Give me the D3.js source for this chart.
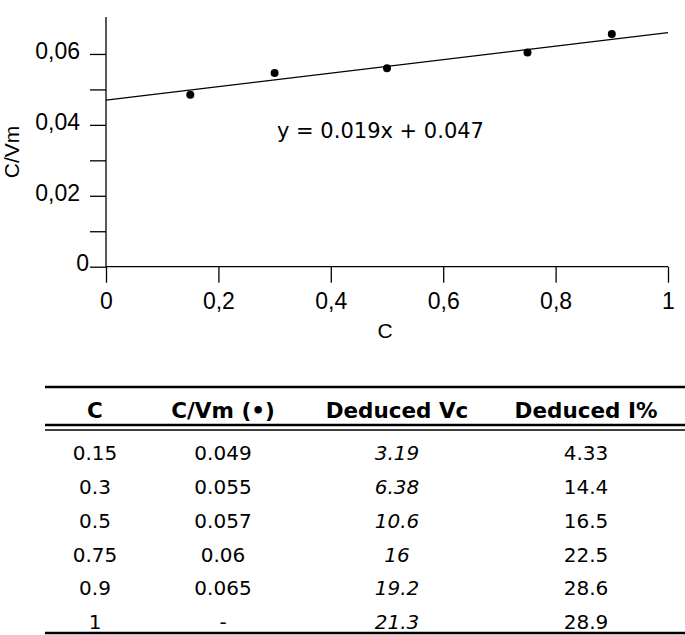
<!DOCTYPE html>
<html>
<head>
<meta charset="utf-8">
<script src="https://cdn.jsdelivr.net/npm/d3@7"></script>
<style>
  body { margin: 0; background: #fff; }
  svg { display: block; }
</style>
</head>
<body>
<svg id="chart"></svg>
<script>
const width = 685;
const height = 635;

// scatter points
const pointC = [0.15, 0.3, 0.5, 0.75, 0.9];
const pointCVm = [0.0485, 0.0546, 0.056, 0.0604, 0.0656];

// linear fit shown on the chart
const fitSlope = 0.019;
const fitIntercept = 0.047;
const fitLabel = "y = 0.019x + 0.047";

const xTicks = [0, 0.2, 0.4, 0.6, 0.8, 1];
const yTicks = [0, 0.01, 0.02, 0.03, 0.04, 0.05, 0.06];
const yLabelled = [0, 0.02, 0.04, 0.06];

// table
const tableHeaders = ["C", "C/Vm (\u2022)", "Deduced Vc", "Deduced I%"];
const colC = ["0.15", "0.3", "0.5", "0.75", "0.9", "1"];
const colCVm = ["0.049", "0.055", "0.057", "0.06", "0.065", "-"];
const colVc = ["3.19", "6.38", "10.6", "16", "19.2", "21.3"];
const colI = ["4.33", "14.4", "16.5", "22.5", "28.6", "28.9"];

const svg = d3.select("#chart")
    .attr("width", width)
    .attr("height", height);

const x = d3.scaleLinear().domain([0, 1]).range([106, 668]);
const y = d3.scaleLinear().domain([0, 0.07]).range([266.7, 18.5]);

const axisFont = "'Liberation Sans', Arial, sans-serif";
const tableFont = "'DejaVu Sans', Verdana, sans-serif";

// y axis
const yAxis = svg.append("g")
    .attr("transform", `translate(${x(0)},0)`)
    .call(d3.axisLeft(y)
        .tickValues(yTicks)
        .tickSize(16)
        .tickPadding(11)
        .tickFormat(d => yLabelled.some(v => Math.abs(v - d) < 1e-9) ? d3.format(".2f")(d).replace(".", ",").replace(/^0,00$/, "0") : ""));
yAxis.select(".domain").remove();
yAxis.selectAll("line").attr("stroke", "#000").attr("stroke-width", 1.3);
yAxis.selectAll("text")
    .style("font-family", axisFont)
    .style("font-size", "23px")
    .attr("fill", "#000")
    .attr("dy", d => d === 0 ? "0.15em" : "0.2em")
    .attr("x", d => d === 0 ? -17 : -26);

svg.append("line")
    .attr("x1", x(0)).attr("x2", x(0))
    .attr("y1", y(0.07) - 1.5).attr("y2", y(0))
    .attr("stroke", "#000").attr("stroke-width", 1.3);

// x axis
const xAxis = svg.append("g")
    .attr("transform", `translate(0,${y(0)})`)
    .call(d3.axisBottom(x)
        .tickValues(xTicks)
        .tickSize(16)
        .tickPadding(10)
        .tickFormat(d => d === 0 || d === 1 ? String(d) : d3.format(".1f")(d).replace(".", ",")));
xAxis.select(".domain").remove();
xAxis.selectAll("line").attr("stroke", "#000").attr("stroke-width", 1.3);
xAxis.selectAll("text")
    .style("font-family", axisFont)
    .style("font-size", "23px")
    .attr("fill", "#000");

svg.append("line")
    .attr("x1", x(0)).attr("x2", x(1))
    .attr("y1", y(0)).attr("y2", y(0))
    .attr("stroke", "#000").attr("stroke-width", 1.3);

// axis titles
svg.append("text")
    .attr("x", 385).attr("y", 338)
    .attr("text-anchor", "middle")
    .style("font-family", axisFont)
    .style("font-size", "21px")
    .text("C");

svg.append("text")
    .attr("transform", "translate(19,152) rotate(-90)")
    .attr("text-anchor", "middle")
    .style("font-family", axisFont)
    .style("font-size", "21px")
    .text("C/Vm");

// fit line
svg.append("line")
    .attr("x1", x(0)).attr("y1", y(fitIntercept))
    .attr("x2", x(1)).attr("y2", y(fitSlope + fitIntercept))
    .attr("stroke", "#000").attr("stroke-width", 1.2);

// points
svg.append("g").selectAll("circle")
    .data(pointC.map((c, i) => [c, pointCVm[i]]))
    .join("circle")
    .attr("cx", d => x(d[0]))
    .attr("cy", d => y(d[1]))
    .attr("r", 4)
    .attr("fill", "#000");

svg.append("text")
    .attr("x", 277).attr("y", 138)
    .style("font-family", tableFont)
    .style("font-size", "21px")
    .text(fitLabel);

// table
const colX = [95, 223, 397, 586];
const tableLeft = 45;
const tableRight = 685;
const rowY = d3.scaleLinear().domain([0, 5]).range([453, 622]);

const table = svg.append("g");
const hline = (yy, w) => table.append("line")
    .attr("x1", tableLeft).attr("x2", tableRight)
    .attr("y1", yy).attr("y2", yy)
    .attr("stroke", "#000").attr("stroke-width", w);

hline(387, 2.5);
hline(425, 2.5);
hline(430, 1.5);
hline(633, 2.5);

table.selectAll("text.head")
    .data(tableHeaders)
    .join("text")
    .attr("class", "head")
    .attr("x", (d, i) => colX[i])
    .attr("y", 410)
    .attr("dy", "0.36em")
    .attr("text-anchor", "middle")
    .style("font-family", tableFont)
    .style("font-weight", "bold")
    .style("font-size", "21.5px")
    .text(d => d);

const columns = [colC, colCVm, colVc, colI];
columns.forEach((col, ci) => {
    table.append("g").selectAll("text")
        .data(col)
        .join("text")
        .attr("x", colX[ci])
        .attr("y", (d, i) => rowY(i))
        .attr("dy", "0.36em")
        .attr("text-anchor", "middle")
        .style("font-family", tableFont)
        .style("font-size", "20px")
        .style("font-style", ci === 2 ? "italic" : "normal")
        .text(d => d);
});
</script>
</body>
</html>
